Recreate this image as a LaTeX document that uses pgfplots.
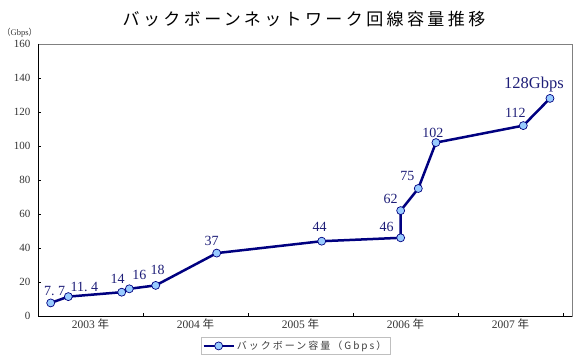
\documentclass[border=0pt]{standalone}
\usepackage{fontspec}
\setmainfont{Liberation Serif}
\newfontfamily\jp{Noto Sans CJK JP}
\newfontfamily\jpls[LetterSpace=20]{Noto Sans CJK JP}
\usepackage{pgfplots}
\pgfplotsset{compat=1.18}
\usepackage{pgfplotstable}
\definecolor{navy}{RGB}{0,0,128}
\definecolor{lblue}{RGB}{153,204,255}
\definecolor{lblc}{RGB}{30,30,120}

\pgfplotstableread{
x y dx dy label
2003.121 7.7 4 12 {7.~7}
2003.289 11.4 16 10 {11.~4}
2003.797 14 -4 13 14
2003.870 16 10 14 16
2004.121 18 2 15 18
2004.702 37 -5 12 37
2005.702 44 -2 14 44
2006.454 46 -14 11 46
2006.454 62 -10 12 62
2006.622 75 -11 13 75
2006.790 102 -3 10 102
2007.622 112 -8 13 112
2007.876 128 -16 14 {\fontsize{16.5}{18}\selectfont 128Gbps}
}\datatable

\begin{document}
\begin{tikzpicture}
\useasboundingbox (0,0) rectangle (585pt,362pt);
\begin{axis}[
  at={(38pt,46pt)}, anchor=south west,
  width=534pt, height=272pt, scale only axis,
  xmin=2003, xmax=2008.086, ymin=0, ymax=160,
  ytick={0,20,...,160}, ytick pos=left,
  xtick={2004,2005,2006,2007,2008}, xtick pos=bottom,
  xticklabels={2003 {\jp 年},2004 {\jp 年},2005 {\jp 年},2006 {\jp 年},2007 {\jp 年}},
  xticklabel style={xshift=-52.5pt, yshift=1pt, font=\fontsize{11.5}{13}\selectfont},
  yticklabel style={xshift=-4pt, font=\fontsize{11}{13}\selectfont},
  tick align=inside, major tick length=3.5pt,
  tick style={black, line width=0.8pt},
  axis line style={black!50, line width=0.8pt},
  /pgf/number format/assume math mode=true,
  tick label style={text=black!80},
  clip=false,
  legend style={at={(axis description cs:0.482,-0.110)}, anchor=center,
    draw=black!25, line width=0.6pt, inner sep=1.5pt,
    font=\jpls\fontsize{10}{12}\selectfont, text=black!75},
  legend image code/.code={\draw[mark repeat=2,mark phase=2,#1] plot coordinates {(0pt,0pt) (15pt,0pt) (30pt,0pt)};},
  after end axis/.code={\draw[black, line width=1pt] (rel axis cs:0,1) -- (rel axis cs:0,0) -- (rel axis cs:1,0);},
]
\addplot[navy, line width=2.5pt, mark=*, mark size=4pt,
  mark options={fill=lblue, draw=navy, line width=0.7pt},
  nodes near coords, point meta=explicit symbolic,
  visualization depends on={\thisrow{dx}\as\dx},
  visualization depends on={\thisrow{dy}\as\dy},
  every node near coord/.append style={anchor=center, xshift=\dx pt, yshift=\dy pt,
    text=lblc, font=\fontsize{14}{16}\selectfont}]
  table[x=x, y=y, meta=label] {\datatable};
\addlegendentry{バックボーン容量（Gbps）}
\end{axis}
\node at (304pt,343pt) {\jpls\fontsize{17}{20}\selectfont バックボーンネットワーク回線容量推移};
\node[text=black!80, inner sep=0pt, anchor=west] at (2pt,329pt) {\fontsize{8.5}{10}\selectfont{\jp （}Gbps{\jp ）}};
\end{tikzpicture}
\end{document}
